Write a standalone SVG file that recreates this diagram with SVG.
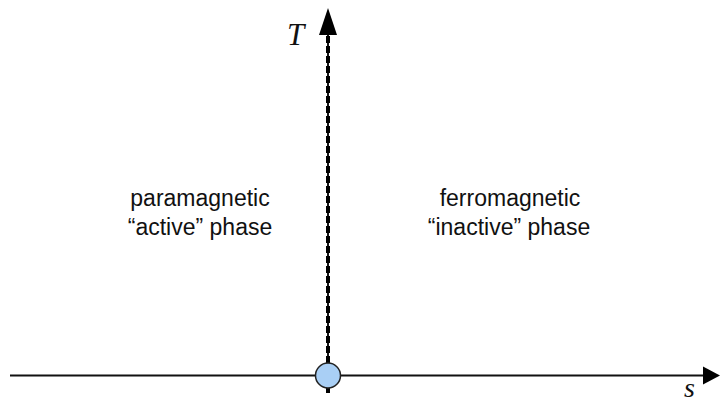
<svg xmlns="http://www.w3.org/2000/svg" width="720" height="403" viewBox="0 0 720 403">
<style>
.lbl{font-family:"Liberation Sans",Arial,sans-serif;font-size:23px;fill:#111;text-anchor:middle}
.var{font-family:"Liberation Serif","Times New Roman",serif;font-style:italic;fill:#111}
</style>
<defs>
<marker id="ah" viewBox="0 0 10 10" refX="10" refY="5" markerWidth="10" markerHeight="10" markerUnits="userSpaceOnUse" orient="auto" overflow="visible">
<path d="M0,0 L10,5 L0,10 Z" fill="#000"/>
</marker>
</defs>
<rect width="720" height="403" fill="#fff"/>
<g id="connectors">
<line x1="10" y1="375.5" x2="703" y2="375.5" stroke="#111" stroke-width="2"/>
<path d="M703,366.5 L720,375.5 L703,384.5 Z" fill="#000"/>
<line x1="328" y1="393" x2="328" y2="34" stroke="#111" stroke-width="2"/>
<line x1="328" y1="393" x2="328" y2="34" stroke="#000" stroke-width="4" stroke-dasharray="7 3"/>
<path d="M319,35 L328,8 L337,35 Z" fill="#000"/>
</g>
<g id="critical-point">
<circle cx="328" cy="375.5" r="12.5" fill="#a9cff5" stroke="#222" stroke-width="1.5"/>
</g>
<g id="axis-T"><text class="var" x="287" y="45" font-size="31">T</text></g>
<g id="axis-s"><text class="var" x="684" y="397" font-size="28">s</text></g>
<g id="left-phase">
<text class="lbl" x="200" y="206">paramagnetic</text>
<text class="lbl" x="200" y="235">“active” phase</text>
</g>
<g id="right-phase">
<text class="lbl" x="510" y="206">ferromagnetic</text>
<text class="lbl" x="509" y="235">“inactive” phase</text>
</g>
</svg>
